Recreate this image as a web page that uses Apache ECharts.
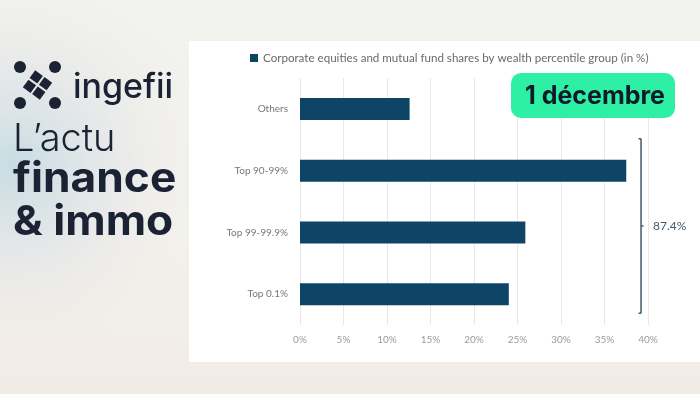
<!DOCTYPE html>
<html>
<head>
<meta charset="utf-8">
<script src="https://cdn.jsdelivr.net/npm/echarts@6/dist/echarts.min.js"></script>
<style>html,body{margin:0;padding:0;background:#f4f3ef;}#c{width:700px;height:394px;}</style>
</head>
<body>
<div id="c"></div>
<script>
const categories = ['Others', 'Top 90-99%', 'Top 99-99.9%', 'Top 0.1%'];
const shares = [12.6, 37.5, 25.9, 24.0];
const seriesName = 'Corporate equities and mutual fund shares by wealth percentile group (in %)';
const xTicks = [0, 5, 10, 15, 20, 25, 30, 35, 40];
const bracketGroups = ['Top 90-99%', 'Top 99-99.9%', 'Top 0.1%'];
const dateLabel = '1 décembre';

const chart = echarts.init(document.getElementById('c'), null, {renderer: 'canvas'});
const navy = '#1b2234';

const graphics = [
  {type:'rect', z:-20, shape:{x:0,y:0,width:700,height:394}, style:{fill:{type:'linear',x:0,y:0,x2:0,y2:1,colorStops:[{offset:0,color:'#f2f2ee'},{offset:0.6,color:'#f3f1ec'},{offset:1,color:'#f1ebe6'}]}}},
  {type:'rect', z:-19, shape:{x:0,y:0,width:700,height:394}, style:{fill:{type:'radial',x:0.02,y:0.42,r:0.5,colorStops:[{offset:0,color:'rgba(196,220,226,0.95)'},{offset:0.45,color:'rgba(218,224,230,0.55)'},{offset:1,color:'rgba(240,236,230,0)'}]}}},
  {type:'rect', z:-10, shape:{x:189,y:41,width:511,height:321}, style:{fill:'#ffffff'}},
  // logo
  {type:'circle', z:5, shape:{cx:20,cy:67,r:6}, style:{fill:navy}},
  {type:'circle', z:5, shape:{cx:55,cy:67,r:6}, style:{fill:navy}},
  {type:'circle', z:5, shape:{cx:20,cy:103,r:6}, style:{fill:navy}},
  {type:'circle', z:5, shape:{cx:55,cy:103,r:6}, style:{fill:navy}},
  {type:'group', z:5, x:37.5, y:85, rotation:-Math.PI/5, children:[
    {type:'rect', shape:{x:-10.5,y:-10.5,width:9.5,height:9.5}, style:{fill:navy}},
    {type:'rect', shape:{x:1,y:-10.5,width:9.5,height:9.5}, style:{fill:navy}},
    {type:'rect', shape:{x:-10.5,y:1,width:9.5,height:9.5}, style:{fill:navy}},
    {type:'rect', shape:{x:1,y:1,width:9.5,height:9.5}, style:{fill:navy}}
  ]},
  {type:'text', z:5, x:73, y:88, style:{text:'ingefii', font:'500 34px Inter', fill:navy, verticalAlign:'middle'}},
  {type:'text', z:5, x:13, y:140, style:{text:'L\u2019actu', font:'300 38px Inter', fill:navy, verticalAlign:'middle'}},
  {type:'text', z:5, x:13, y:180, scaleX:1.08, style:{text:'finance', font:'700 41px Inter', fill:navy, verticalAlign:'middle'}},
  {type:'text', z:5, x:13, y:223, scaleX:1.08, style:{text:'& immo', font:'700 41px Inter', fill:navy, verticalAlign:'middle'}},
  // badge
  {type:'rect', z:20, shape:{x:511,y:73,width:164,height:45,r:10}, style:{fill:'#2df0a4'}},
  {type:'text', z:21, x:595, y:96, style:{text:dateLabel, font:'700 25px Inter', fill:'#0f1b2a', align:'center', verticalAlign:'middle'}}
];

chart.setOption({
  animation: false,
  backgroundColor: 'transparent',
  textStyle: {fontFamily: 'Lato'},
  legend: {
    data: [seriesName], left: 245, top: 47, icon: 'rect', itemWidth: 8, itemHeight: 8, itemGap: 4,
    textStyle: {color: '#6a6a6a', fontSize: 11.6, fontFamily: 'Lato'}
  },
  grid: {left: 300, right: 52, top: 78, bottom: 69, containLabel: false},
  xAxis: {
    type: 'value', min: xTicks[0], max: xTicks[xTicks.length-1], interval: 5,
    axisLine: {show: false}, axisTick: {show: false},
    axisLabel: {formatter: v => v + '%', color: '#9a9a9a', fontSize: 10, margin: 10},
    splitLine: {lineStyle: {color: '#e8e8e8', width: 1}}
  },
  yAxis: {
    type: 'category', data: categories, inverse: true,
    axisLine: {show: false}, axisTick: {show: false},
    axisLabel: {color: '#777', fontSize: 10, margin: 12}
  },
  series: [{
    name: seriesName, type: 'bar', data: shares, barWidth: 22,
    itemStyle: {color: '#0e4466'}
  }],
  graphic: graphics
});

// bracket annotation, positioned from the axes
const bx = chart.convertToPixel({xAxisIndex: 0}, 39.2);
const y0 = chart.convertToPixel({yAxisIndex: 0}, bracketGroups[0]);
const yPrev = chart.convertToPixel({yAxisIndex: 0}, categories[0]);
const y3 = chart.convertToPixel({yAxisIndex: 0}, bracketGroups[bracketGroups.length-1]);
const band = y0 - yPrev;
const topY = (y0 + yPrev) / 2 - 1;
const botY = y3 + band * 0.31;
const midY = (topY + botY) / 2;
const total = bracketGroups.reduce((s, g) => s + shares[categories.indexOf(g)], 0);
const bc = '#3f5b6d';
graphics.push(
  {type:'line', z:10, shape:{x1:bx,y1:topY,x2:bx,y2:botY}, style:{stroke:bc, lineWidth:1.5}},
  {type:'line', z:10, shape:{x1:bx-2.5,y1:topY,x2:bx,y2:topY}, style:{stroke:bc, lineWidth:1.5}},
  {type:'line', z:10, shape:{x1:bx-2.5,y1:botY,x2:bx,y2:botY}, style:{stroke:bc, lineWidth:1.5}},
  {type:'line', z:10, shape:{x1:bx,y1:midY,x2:bx+2.5,y2:midY}, style:{stroke:bc, lineWidth:1.5}},
  {type:'text', z:10, x:bx+12, y:midY, style:{text: total.toFixed(1) + '%', font:'12px Lato', fill:'#3f5b6d', verticalAlign:'middle'}}
);
chart.setOption({graphic: graphics}, {replaceMerge: ['graphic']});
</script>
</body>
</html>
